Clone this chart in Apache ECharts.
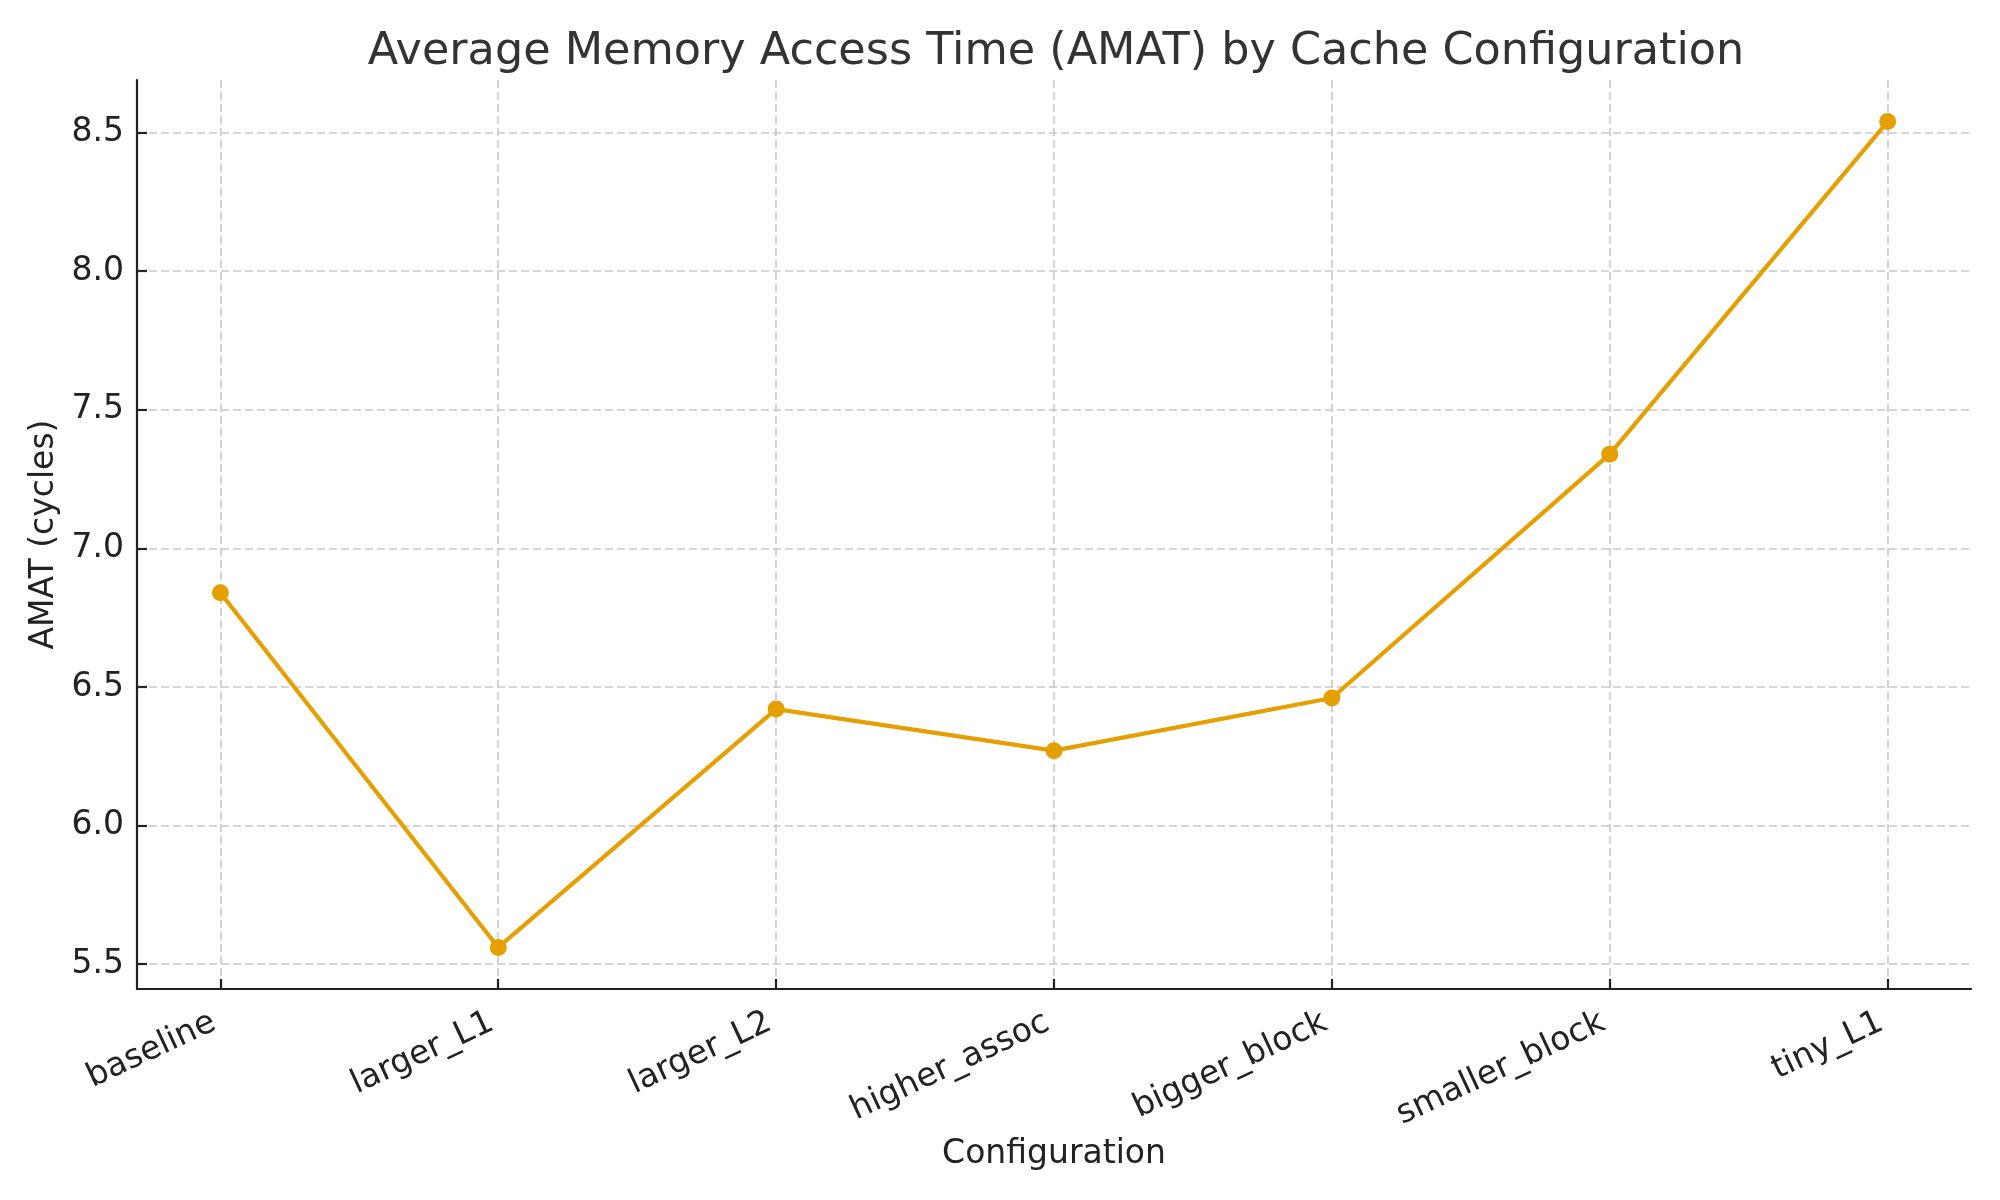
<!DOCTYPE html>
<html>
<head>
<meta charset="utf-8">
<script src="https://cdn.jsdelivr.net/npm/echarts@6/dist/echarts.min.js"></script>
<style>html,body{margin:0;padding:0;background:#fff;}#c{width:2000px;height:1200px;}</style>
</head>
<body>
<div id="c"></div>
<script>
const categories = ['baseline', 'larger_L1', 'larger_L2', 'higher_assoc', 'bigger_block', 'smaller_block', 'tiny_L1'];
const amatValues = [6.84, 5.56, 6.42, 6.27, 6.46, 7.34, 8.54];
const yTickValues = [5.5, 6.0, 6.5, 7.0, 7.5, 8.0, 8.5];
const xTickValues = [0, 1, 2, 3, 4, 5, 6];

const font = 'DejaVu Sans';
const chart = echarts.init(document.getElementById('c'), null, {renderer: 'canvas'});
const gridLine = {show: true, lineStyle: {color: '#c8c8c8', width: 1.6, type: [8, 4]}};

chart.setOption({
  animation: false,
  backgroundColor: '#fff',
  title: {
    text: 'Average Memory Access Time (AMAT) by Cache Configuration',
    left: 1051, top: 25, textAlign: 'center',
    textStyle: {fontFamily: font, fontSize: 44.5, fontWeight: 'normal', color: '#333'}
  },
  grid: {left: 137, right: 29, top: 80, bottom: 211, containLabel: false},
  xAxis: {
    type: 'value', min: -0.3, max: 6.3,
    name: 'Configuration', nameLocation: 'middle', nameGap: 143,
    nameTextStyle: {fontFamily: font, fontSize: 33, color: '#222'},
    axisLine: {show: true, onZero: false, lineStyle: {color: '#222', width: 2.2}},
    axisTick: {show: true, inside: true, length: 10, customValues: xTickValues, lineStyle: {color: '#222', width: 2.2}},
    axisLabel: {
      customValues: xTickValues, rotate: 25, margin: 29, padding: [0, 7, 0, 0],
      fontFamily: font, fontSize: 33, color: '#222',
      formatter: v => categories[Math.round(v)]
    },
    splitLine: gridLine
  },
  yAxis: {
    type: 'value', min: 5.41, max: 8.69,
    name: 'AMAT (cycles)', nameLocation: 'middle', nameGap: 73,
    nameTextStyle: {fontFamily: font, fontSize: 33, color: '#222'},
    axisLine: {show: true, onZero: false, lineStyle: {color: '#222', width: 2.2}},
    axisTick: {show: true, inside: true, length: 10, customValues: yTickValues, lineStyle: {color: '#222', width: 2.2}},
    axisLabel: {
      customValues: yTickValues, margin: 13,
      fontFamily: font, fontSize: 33, color: '#222',
      formatter: v => v.toFixed(1)
    },
    splitLine: gridLine
  },
  series: [{
    type: 'line',
    data: categories.map((c, i) => [i, amatValues[i]]),
    symbol: 'circle', symbolSize: 17,
    lineStyle: {color: '#E69F00', width: 4.2},
    itemStyle: {color: '#E69F00'},
    z: 5
  }]
});
</script>
</body>
</html>
